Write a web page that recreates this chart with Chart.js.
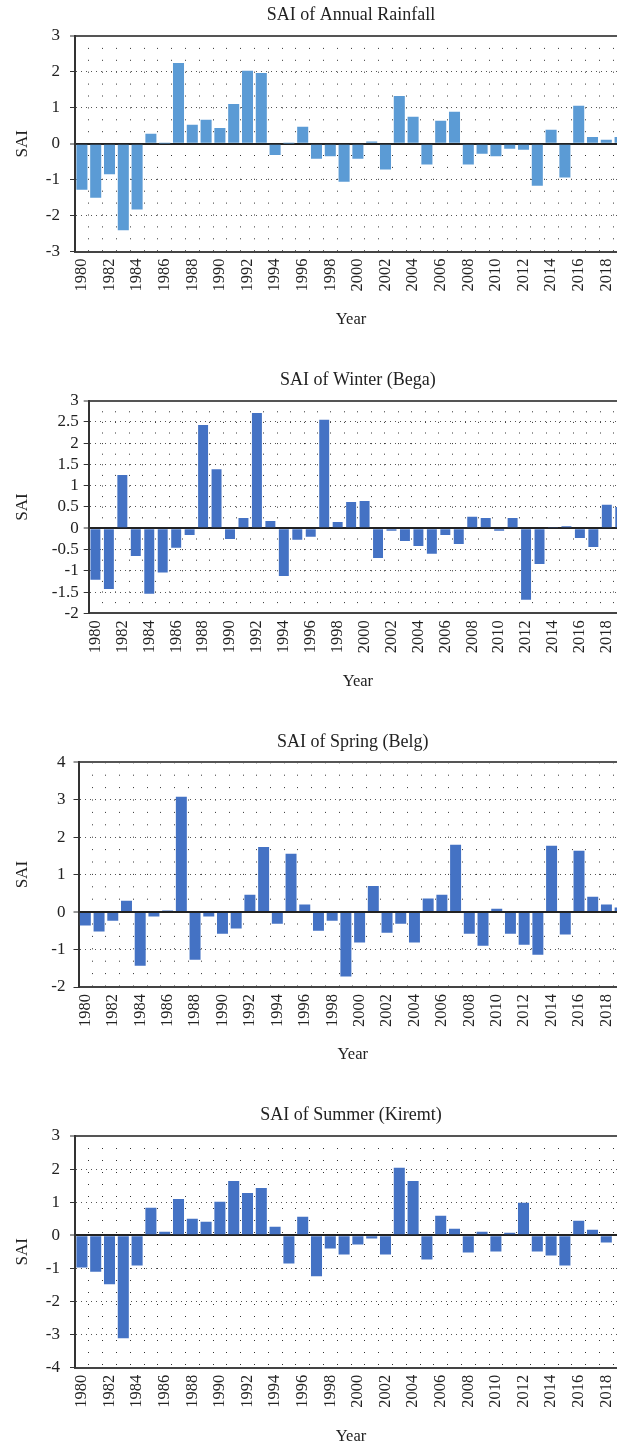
<!DOCTYPE html>
<html>
<head>
<meta charset="utf-8">
<script src="https://cdn.jsdelivr.net/npm/chart.js"></script>
<style>
    html, body {
        margin: 0;
        padding: 0;
        background: #fff;
        width: 617px;
        height: 1446px;
        overflow: hidden;
    }
    canvas {
        position: absolute;
        left: 0;
    }
</style>
</head>
<body>
    <canvas id="annualChart"></canvas>
    <canvas id="winterChart"></canvas>
    <canvas id="springChart"></canvas>
    <canvas id="summerChart"></canvas>
<script>
    const years = [1980, 1981, 1982, 1983, 1984, 1985, 1986, 1987, 1988, 1989,
                   1990, 1991, 1992, 1993, 1994, 1995, 1996, 1997, 1998, 1999,
                   2000, 2001, 2002, 2003, 2004, 2005, 2006, 2007, 2008, 2009,
                   2010, 2011, 2012, 2013, 2014, 2015, 2016, 2017, 2018, 2019];

    const annualSai = [-1.28, -1.5, -0.85, -2.41, -1.83, 0.28, 0.01, 2.25, 0.53, 0.67,
                       0.44, 1.11, 2.03, 1.97, -0.31, 0.01, 0.47, -0.42, -0.35, -1.06,
                       -0.42, 0.06, -0.72, 1.33, 0.75, -0.58, 0.64, 0.89, -0.58, -0.28,
                       -0.35, -0.14, -0.17, -1.17, 0.39, -0.94, 1.06, 0.19, 0.11, 0.19];

    const winterSai = [-1.21, -1.43, 1.25, -0.65, -1.54, -1.04, -0.46, -0.16, 2.43, 1.39,
                       -0.25, 0.24, 2.71, 0.17, -1.12, -0.27, -0.2, 2.55, 0.15, 0.62,
                       0.64, -0.7, -0.06, -0.3, -0.42, -0.6, -0.16, -0.37, 0.27, 0.24,
                       -0.06, 0.24, -1.68, -0.84, 0.03, 0.05, -0.23, -0.44, 0.55, 0.5];

    const springSai = [-0.36, -0.52, -0.23, 0.3, -1.43, -0.12, 0.04, 3.08, -1.27, -0.12,
                       -0.58, -0.44, 0.46, 1.74, -0.31, 1.56, 0.2, -0.5, -0.23, -1.72,
                       -0.81, 0.7, -0.55, -0.31, -0.81, 0.36, 0.46, 1.8, -0.58, -0.9,
                       0.09, -0.58, -0.87, -1.14, 1.77, -0.6, 1.64, 0.41, 0.2, 0.12];

    const summerSai = [-0.97, -1.1, -1.48, -3.11, -0.91, 0.83, 0.11, 1.1, 0.5, 0.41,
                       1.01, 1.64, 1.28, 1.43, 0.26, -0.85, 0.56, -1.24, -0.4, -0.58,
                       -0.28, -0.1, -0.58, 2.04, 1.64, -0.73, 0.59, 0.2, -0.52, 0.11,
                       -0.49, 0.08, 0.98, -0.49, -0.61, -0.91, 0.44, 0.17, -0.22, 0];

    const serif = "'Liberation Serif', 'Times New Roman', serif";
    const textColor = '#222';

    // one SAI bar chart; o holds where the plot sits on the page
    function drawSai(id, titleText, values, o) {
        const canvas = document.getElementById(id);
        canvas.style.top = o.top + 'px';
        canvas.width = 702;
        canvas.height = o.height;

        const titleLh = 18 * 1.2;
        const titlePadTop = o.titleY - o.top - titleLh / 2;
        const titlePadBottom = o.plotTop - o.top - titlePadTop - titleLh;
        const xTitleLh = 16.5 * 1.2;
        const bottom = o.top + o.height;

        return new Chart(canvas, {
            type: 'bar',
            data: {
                labels: years,
                datasets: [{
                    data: values,
                    backgroundColor: o.color,
                    borderWidth: 0,
                    barPercentage: o.bar,
                    categoryPercentage: 1
                }]
            },
            options: {
                responsive: false,
                animation: false,
                devicePixelRatio: 1,
                layout: { padding: { left: 0, top: 0, right: 75, bottom: 0 } },
                plugins: {
                    legend: { display: false },
                    tooltip: { enabled: false },
                    title: {
                        display: true,
                        text: titleText,
                        fullSize: false,
                        color: textColor,
                        font: { family: serif, size: 18, weight: 'normal' },
                        padding: { top: titlePadTop, bottom: titlePadBottom }
                    }
                },
                scales: {
                    x: {
                        grid: { offset: true, color: '#333', lineWidth: 1, drawTicks: false },
                        border: { display: true, color: '#444', width: 2, dash: [1, o.dotGap] },
                        ticks: {
                            autoSkip: false,
                            minRotation: 90,
                            maxRotation: 90,
                            padding: 7,
                            color: textColor,
                            font: { family: serif, size: 16.5 },
                            callback: function (v, i) {
                                return i % 2 === 0 ? String(years[i]) : '';
                            }
                        },
                        title: {
                            display: true,
                            text: 'Year',
                            color: textColor,
                            font: { family: serif, size: 16.5 },
                            padding: { top: 0, bottom: bottom - o.yearY - xTitleLh / 2 }
                        },
                        afterFit: function (scale) {
                            scale.height = bottom - o.plotBottom;
                        }
                    },
                    y: {
                        min: o.min,
                        max: o.max,
                        ticks: {
                            stepSize: o.step,
                            autoSkip: false,
                            padding: o.tickPad,
                            color: textColor,
                            font: { family: serif, size: 17 },
                            callback: function (v) { return String(v); }
                        },
                        grid: {
                            color: function (ctx) {
                                const v = ctx.tick ? ctx.tick.value : null;
                                if (v === 0) return '#222';
                                if (v === o.min) return 'rgba(0,0,0,0)';
                                return '#555';
                            },
                            lineWidth: function (ctx) {
                                const v = ctx.tick ? ctx.tick.value : null;
                                return (v === 0 || v === o.max) ? 2 : 1;
                            },
                            tickLength: 5,
                            tickColor: '#333',
                            tickWidth: 1,
                            tickBorderDash: []
                        },
                        border: {
                            display: true,
                            color: '#333',
                            width: 2,
                            dash: function (ctx) {
                                const v = ctx.tick ? ctx.tick.value : null;
                                return (v === null || v === 0 || v === o.max) ? [] : [1, 4];
                            }
                        },
                        title: {
                            display: true,
                            text: 'SAI',
                            color: textColor,
                            font: { family: serif, size: 17 },
                            padding: { top: 12, bottom: 0 }
                        },
                        afterFit: function (scale) {
                            scale.width = o.plotLeft;
                        }
                    }
                }
            }
        });
    }

    drawSai('annualChart', 'SAI of Annual Rainfall', annualSai, {
        top: 0, height: 345, titleY: 15, plotTop: 36, plotBottom: 251.5, plotLeft: 75,
        yearY: 320, min: -3, max: 3, step: 1, color: '#5b9bd5', bar: 0.8, dotGap: 10.9, tickPad: 10
    });

    drawSai('winterChart', 'SAI of Winter (Bega)', winterSai, {
        top: 365, height: 340, titleY: 380, plotTop: 400.7, plotBottom: 613.3, plotLeft: 88.7,
        yearY: 681.5, min: -2, max: 3, step: 0.5, color: '#4472c4', bar: 0.74, dotGap: 9.6, tickPad: 5
    });

    drawSai('springChart', 'SAI of Spring (Belg)', springSai, {
        top: 727, height: 350, titleY: 742, plotTop: 762.3, plotBottom: 987, plotLeft: 78.5,
        yearY: 1055, min: -2, max: 4, step: 1, color: '#4472c4', bar: 0.8, dotGap: 11.4, tickPad: 8
    });

    drawSai('summerChart', 'SAI of Summer (Kiremt)', summerSai, {
        top: 1100, height: 356, titleY: 1115, plotTop: 1136, plotBottom: 1367.7, plotLeft: 75,
        yearY: 1436.5, min: -4, max: 3, step: 1, color: '#4472c4', bar: 0.8, dotGap: 11, tickPad: 10
    });
</script>
</body>
</html>
